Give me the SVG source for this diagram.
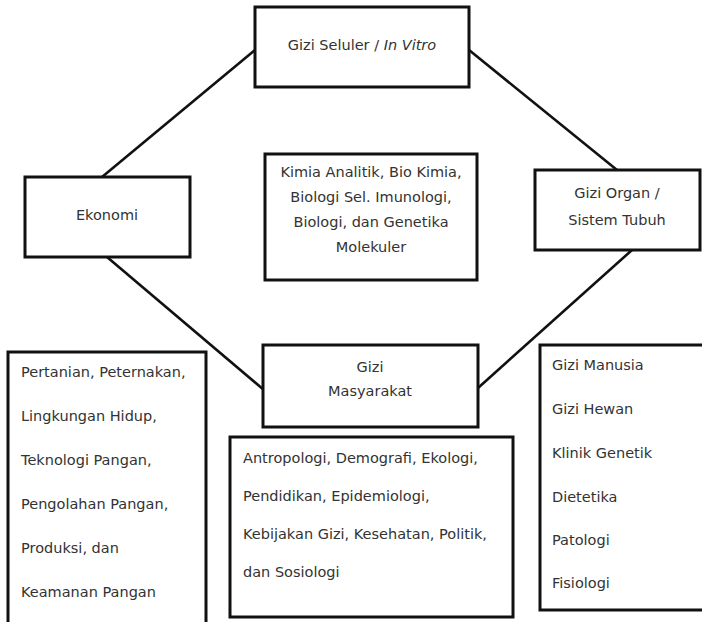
<svg xmlns="http://www.w3.org/2000/svg" width="702" height="622" viewBox="0 0 702 622">
<style>
.box{fill:#fff;stroke:#111;stroke-width:3}
.ln{stroke:#111;stroke-width:2.6;fill:none}
text{font-family:"DejaVu Sans",Verdana,sans-serif;font-size:14.5px;fill:#333}
.c{text-anchor:middle}
</style>
<rect width="702" height="622" fill="#fff"/>
<g id="connectors">
<line class="ln" x1="255" y1="50" x2="102" y2="177"/>
<line class="ln" x1="469" y1="50" x2="617" y2="170"/>
<line class="ln" x1="107" y1="257" x2="264" y2="390"/>
<line class="ln" x1="632" y1="250" x2="478" y2="388"/>
</g>
<g id="gizi-seluler">
<rect class="box" x="255" y="7" width="214" height="80"/>
<text class="c" x="362" y="50">Gizi Seluler / <tspan font-style="italic">In Vitro</tspan></text>
</g>
<g id="ekonomi">
<rect class="box" x="25" y="177" width="165" height="80"/>
<text class="c" x="107" y="220">Ekonomi</text>
</g>
<g id="gizi-organ">
<rect class="box" x="535" y="170" width="165" height="80"/>
<text class="c" x="617" y="198">Gizi Organ /</text>
<text class="c" x="617" y="225">Sistem Tubuh</text>
</g>
<g id="ilmu-dasar">
<rect class="box" x="265" y="154" width="212" height="126"/>
<text class="c" x="371" y="177">Kimia Analitik, Bio Kimia,</text>
<text class="c" x="371" y="202">Biologi Sel. Imunologi,</text>
<text class="c" x="371" y="227">Biologi, dan Genetika</text>
<text class="c" x="371" y="252">Molekuler</text>
</g>
<g id="gizi-masyarakat">
<rect class="box" x="263" y="345" width="215" height="82"/>
<text class="c" x="370" y="372">Gizi</text>
<text class="c" x="370" y="396">Masyarakat</text>
</g>
<g id="list-ekonomi">
<rect class="box" x="8" y="352" width="198" height="280"/>
<text x="21" y="377">Pertanian, Peternakan,</text>
<text x="21" y="421">Lingkungan Hidup,</text>
<text x="21" y="465">Teknologi Pangan,</text>
<text x="21" y="509">Pengolahan Pangan,</text>
<text x="21" y="553">Produksi, dan</text>
<text x="21" y="597">Keamanan Pangan</text>
</g>
<g id="list-masyarakat">
<rect class="box" x="230" y="437" width="283" height="180"/>
<text x="243" y="463">Antropologi, Demografi, Ekologi,</text>
<text x="243" y="501">Pendidikan, Epidemiologi,</text>
<text x="243" y="539">Kebijakan Gizi, Kesehatan, Politik,</text>
<text x="243" y="577">dan Sosiologi</text>
</g>
<g id="list-organ">
<rect class="box" x="540" y="345" width="170" height="265"/>
<text x="552" y="370">Gizi Manusia</text>
<text x="552" y="414">Gizi Hewan</text>
<text x="552" y="458">Klinik Genetik</text>
<text x="552" y="502">Dietetika</text>
<text x="552" y="545">Patologi</text>
<text x="552" y="588">Fisiologi</text>
</g>
</svg>
